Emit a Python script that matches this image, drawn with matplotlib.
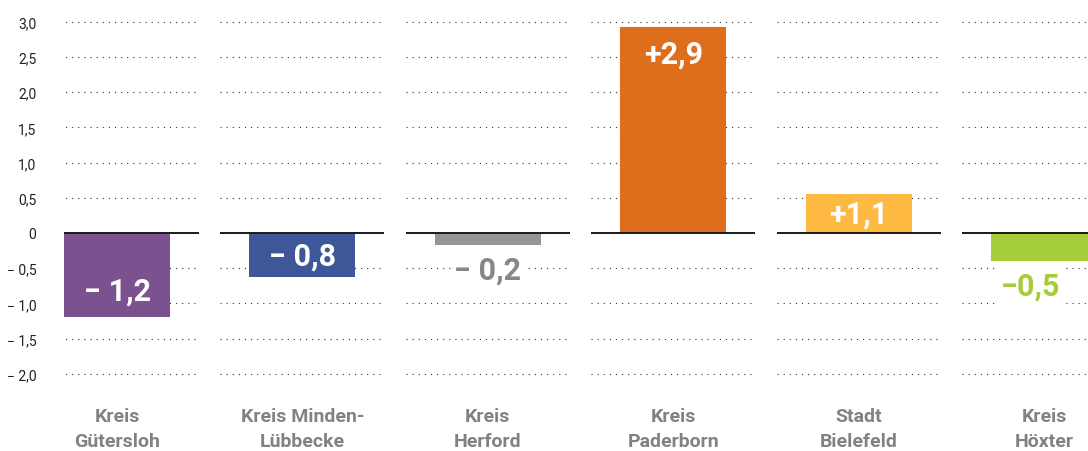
import numpy as np
import matplotlib.pyplot as plt

categories = ["Kreis\nGütersloh", "Kreis Minden-\nLübbecke", "Kreis\nHerford",
              "Kreis\nPaderborn", "Stadt\nBielefeld", "Kreis\nHöxter"]
values = [-1.2, -0.63, -0.17, 2.93, 0.55, -0.4]
value_labels = ["\u2212 1,2", "\u2212 0,8", "\u2212 0,2", "+2,9", "+1,1", "\u22120,5"]
colors = ["#7B518F", "#3E5799", "#939598", "#DE6E1C", "#FDB942", "#A5CD39"]
label_out_colors = ["#7B518F", "#3E5799", "#86878A", "#DE6E1C", "#FDB942", "#A5CD39"]
yticks = [3.0, 2.5, 2.0, 1.5, 1.0, 0.5, 0, -0.5, -1.0, -1.5, -2.0]
ytick_labels = ["3,0", "2,5", "2,0", "1,5", "1,0", "0,5", "0",
                "\u2212 0,5", "\u2212 1,0", "\u2212 1,5", "\u2212 2,0"]

plt.rcParams['font.family'] = ['Roboto', 'DejaVu Sans']

fig = plt.figure(figsize=(10.88, 4.52), dpi=100)
ax = fig.add_axes([64/1088, 1 - 395.9/452, 1 - 64/1088, (395.9 - 1.7)/452])

x = np.arange(len(categories))
half = 0.442

# dotted grid per group
for xi in x:
    ax.hlines([t for t in yticks if t != 0], xi - half, xi + half,
              colors="#333333", linewidth=0.8, linestyles=(0, (1, 4.5)), zorder=1)

ax.bar(x, values, width=0.572, color=colors, zorder=2)

for xi in x:
    ax.hlines(0, xi - half, xi + half, colors="#1a1a1a", linewidth=1.4, zorder=3)

for i, (v, lab) in enumerate(zip(values, value_labels)):
    s = np.sign(v)
    xpos = x[i]
    box = None
    if abs(v) >= 0.5:
        y = v - s * min(0.38, abs(v) / 2)
        c = "white"
    else:
        y = v + s * 0.35
        c = label_out_colors[i]
        box = dict(facecolor="white", edgecolor="none", pad=2)
    if i == len(values) - 1:
        xpos = x[i] - 0.075
    ax.text(xpos, y, lab, ha="center", va="center", color=c,
            fontsize=22, fontweight="bold", zorder=4, bbox=box)

ax.set_xlim(-0.286, 5.237)
ax.set_ylim(-2.3, 3.3)
ax.set_yticks(yticks)
ax.set_yticklabels(ytick_labels, fontsize=10, color="#222222")
ax.tick_params(axis="y", length=0, pad=20)
ax.set_xticks(x)
ax.set_xticklabels(categories, fontsize=14, fontweight="bold", color="#808285",
                   linespacing=1.45)
ax.tick_params(axis="x", length=0, pad=9)
for sp in ax.spines.values():
    sp.set_visible(False)

fig.savefig("out.png", dpi=100)
